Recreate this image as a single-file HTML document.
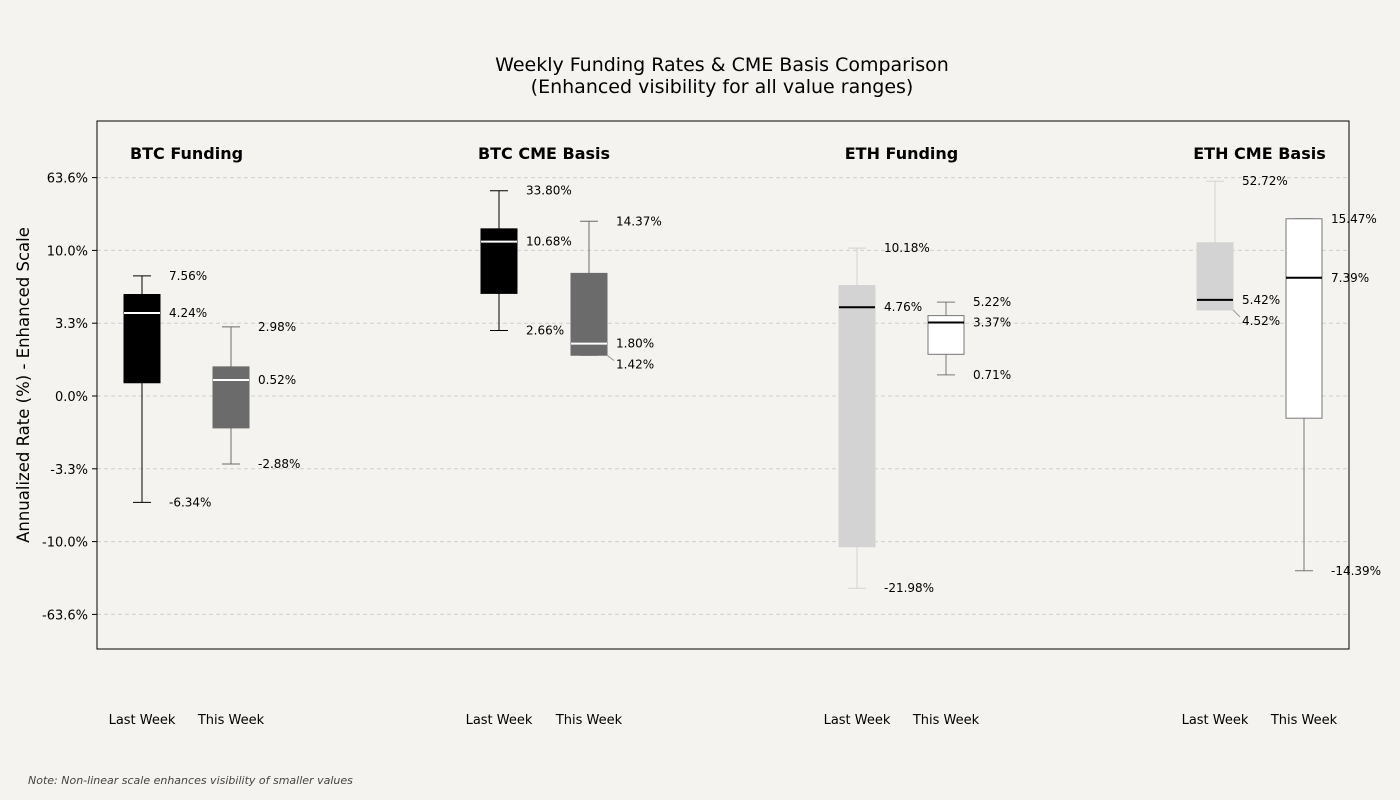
<!DOCTYPE html>
<html><head><meta charset="utf-8">
<style>
body{margin:0;background:#f4f3ef;font-family:"DejaVu Sans","Liberation Sans",sans-serif;}
svg{display:block;font-family:"DejaVu Sans","Liberation Sans",sans-serif;}
</style></head>
<body>
<svg id="chart" width="1400" height="800" xmlns="http://www.w3.org/2000/svg">
<rect x="0" y="0" width="1400" height="800" fill="#f4f3ef"/>
<text x="722" y="71" font-size="19" text-anchor="middle">Weekly Funding Rates &amp; CME Basis Comparison</text>
<text x="722" y="93" font-size="19" text-anchor="middle">(Enhanced visibility for all value ranges)</text>
<text transform="translate(29,385) rotate(-90)" font-size="16.5" text-anchor="middle">Annualized Rate (%) - Enhanced Scale</text>
<text x="28" y="784" font-size="11" font-style="italic" fill="#444">Note: Non-linear scale enhances visibility of smaller values</text>
<g id="grid"></g><g id="marks"></g>
<rect x="97" y="121" width="1252" height="528" fill="none" stroke="#000" stroke-width="1"/>
</svg>
<script>
const groups=["BTC Funding","BTC CME Basis","ETH Funding","ETH CME Basis"];
const periods=["Last Week","This Week"];
const whisLo=[-6.34,-2.88,2.66,1.42,-21.98,0.71,4.52,-14.39];
const q1=[0.43,-1.1,6.0,1.42,-10.4,1.45,4.52,-0.75];
const med=[4.24,0.52,10.68,1.80,4.76,3.37,5.42,7.39];
const q3=[5.9,1.0,13.0,7.8,6.7,4.0,10.6,15.47];
const whisHi=[7.56,2.98,33.80,14.37,10.18,5.22,52.72,15.47];
const tickVals=[63.6,10.0,3.3,0.0,-3.3,-10.0,-63.6];
const tickLabels=["63.6%","10.0%","3.3%","0.0%","-3.3%","-10.0%","-63.6%"];
const scaleV=[0,0.52,0.71,1.42,1.8,2.66,3.3,4.24,5.42,7.56,10,10.68,14.37,21.98,33.8,52.72,63.6,200];
const scaleT=[0,0.22,0.29,0.56,0.72,0.9,1.0,1.14,1.32,1.65,2.0,2.12,2.4,2.64,2.82,2.95,3.0,3.3];
function tr(v){const a=Math.abs(v);let i=0;while(i<scaleV.length-2&&a>scaleV[i+1])i++;
 const t=scaleT[i]+(a-scaleV[i])/(scaleV[i+1]-scaleV[i])*(scaleT[i+1]-scaleT[i]);return v<0?-t:t;}
function y(v){return 396-tr(v)*72.8;}
const centers=[142,231,499,589,857,946,1215,1304];
const boxFill=["#000","#6b6b6b","#000","#6b6b6b","#d3d3d3","#fff","#d3d3d3","#fff"];
const boxStroke=["#000","#6b6b6b","#000","#6b6b6b","#d3d3d3","#777","#d3d3d3","#777"];
const medColor=["#fff","#fff","#fff","#fff","#000","#000","#000","#000"];
const NS="http://www.w3.org/2000/svg";
function mk(p,tag,at,txt){const e=document.createElementNS(NS,tag);for(const k in at)e.setAttribute(k,at[k]);if(txt!==undefined)e.textContent=txt;p.appendChild(e);return e;}
const grid=document.getElementById('grid'),marks=document.getElementById('marks');
tickVals.forEach((v,i)=>{
 const l=mk(grid,'line',{x1:97,x2:1349,y1:y(v),y2:y(v),stroke:'#d0d0d0','stroke-dasharray':'4,3'});
 
 
 const t=mk(grid,'text',{x:88,y:y(v)+5,'font-size':13,'text-anchor':'end'},tickLabels[i]);
 
 
 const tk=mk(grid,'line',{x1:92,x2:97,y1:y(v),y2:y(v),stroke:'#000'});
 
 
});
groups.forEach((g,gi)=>{
 const cx=(centers[gi*2]+centers[gi*2+1])/2;
 const t=mk(marks,'text',{x:cx,y:159,'font-size':16,'font-weight':'bold','text-anchor':'middle'},g);
 
 
});
const fmt=v=>v.toFixed(2)+'%';
for(let i=0;i<8;i++){
 const c=centers[i],w=18;
 const gEl=mk(marks,'g',{});
 
 
 const s=boxStroke[i];
 mk(gEl,'line',{x1:c,x2:c,y1:y(whisHi[i]),y2:y(q3[i]),stroke:s});
 mk(gEl,'line',{x1:c,x2:c,y1:y(q1[i]),y2:y(whisLo[i]),stroke:s});
 mk(gEl,'line',{x1:c-9,x2:c+9,y1:y(whisHi[i]),y2:y(whisHi[i]),stroke:s});
 mk(gEl,'line',{x1:c-9,x2:c+9,y1:y(whisLo[i]),y2:y(whisLo[i]),stroke:s});
 mk(gEl,'rect',{x:c-w,y:y(q3[i]),width:2*w,height:y(q1[i])-y(q3[i]),fill:boxFill[i],stroke:s});
 mk(gEl,'line',{x1:c-w,x2:c+w,y1:y(med[i]),y2:y(med[i]),stroke:medColor[i],'stroke-width':2});
 const lx=c+27;
 let items=[[whisHi[i],y(whisHi[i])],[med[i],y(med[i])],[whisLo[i],y(whisLo[i])]];
 for(let k=1;k<3;k++){if(items[k][1]-items[k-1][1]<18){const ny=items[k-1][1]+21;
   mk(gEl,'line',{x1:c+18,y1:items[k][1],x2:lx-2,y2:ny-4,stroke:'#999'});items[k][1]=ny;}}
 items.forEach(([v,yy])=>{
  const t=mk(gEl,'text',{x:lx,y:yy+4,'font-size':12},fmt(v));
  
  
 });
 const xl=mk(marks,'text',{x:c,y:724,'font-size':13,'text-anchor':'middle'},periods[i%2]);
 
 
}
</script>
</body></html>
